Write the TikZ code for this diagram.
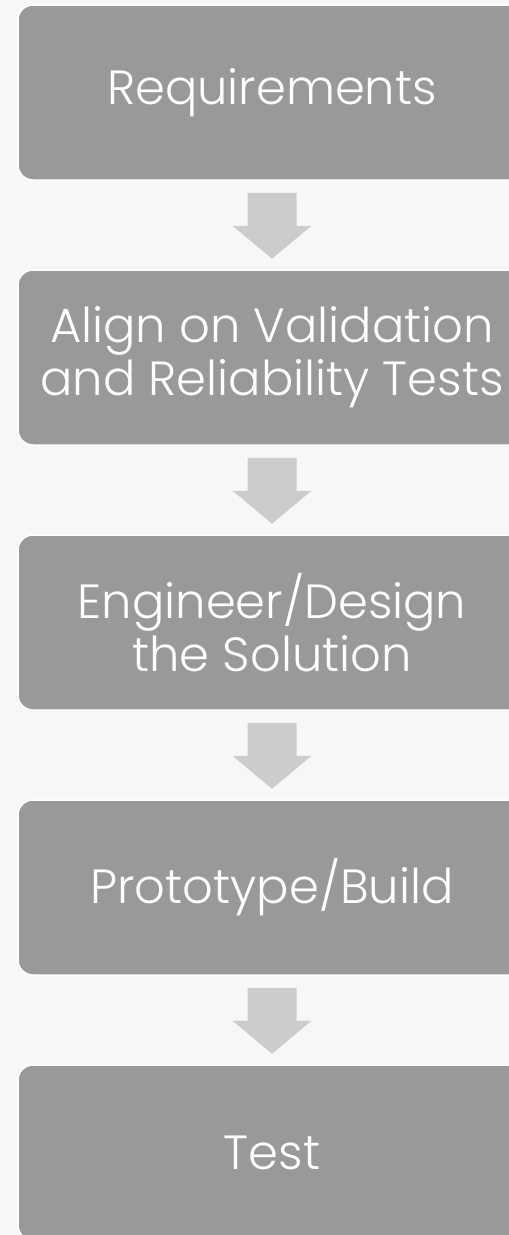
\documentclass[tikz,border=0pt]{standalone}
\usepackage{fontspec}
\setmainfont{Poppins Light}
\begin{document}
\begin{tikzpicture}[x=1pt,y=-1pt,
  stepbox/.style={draw=white,line width=1.5pt,fill=boxgray,rounded corners=15pt,
    minimum width=508pt,minimum height=175pt,inner sep=0pt,text=white,
    align=center,font=\fontsize{48}{53}\selectfont},
  downarrow/.style={fill=arrowgray,draw=none}]
\definecolor{boxgray}{HTML}{999999}
\definecolor{arrowgray}{HTML}{CCCCCC}
\definecolor{bg}{HTML}{F7F7F7}
\useasboundingbox (0,0) rectangle (509,1235);
\fill[bg] (0,0) rectangle (509,1235);
\node[stepbox] (b1) at (272,92.5) {Requirements};
\node[stepbox] (b2) at (272,357.5) {Align on Validation\\and Reliability Tests};
\node[stepbox] (b3) at (272,622.5) {Engineer/Design\\the Solution};
\node[stepbox] (b4) at (272,887.5) {Prototype/Build};
\node[stepbox] (b5) at (272,1152.5) {Test};
\foreach \a/\b in {b1/b2,b2/b3,b3/b4,b4/b5}{
  \path (\a.south) ++(0,12) coordinate (t);
  \fill[downarrow] (t) ++(-24.5,0) -- ++(49,0) -- ++(0,33) -- ++(15,0)
     -- ++(-39.5,33) -- ++(-39.5,-33) -- ++(15,0) -- cycle;
}
\end{tikzpicture}
\end{document}
